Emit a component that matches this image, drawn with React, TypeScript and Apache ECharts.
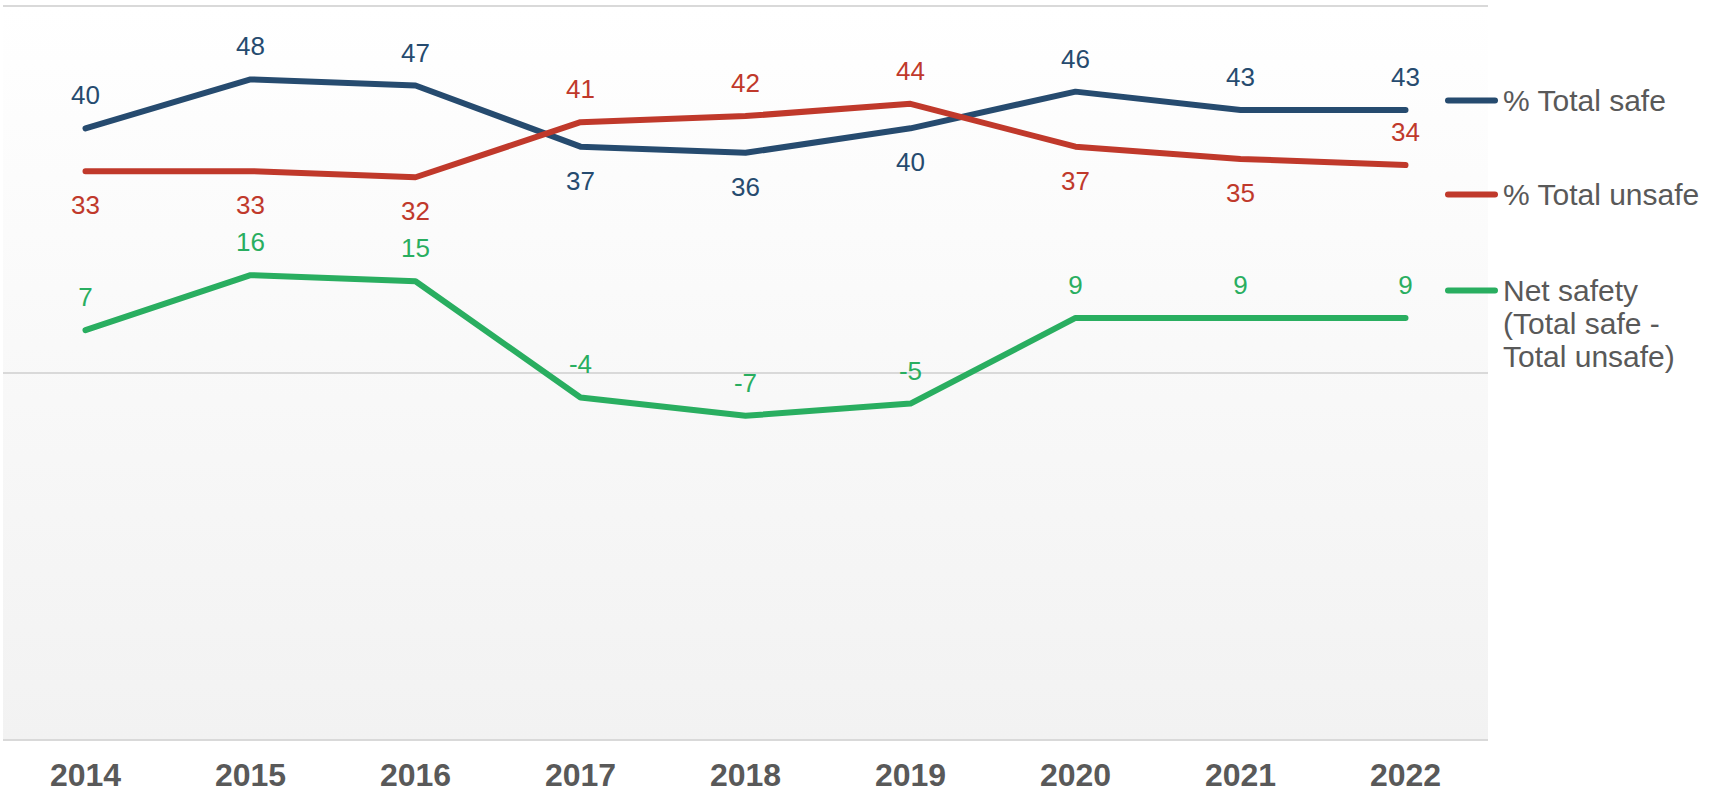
import React, { useEffect, useRef } from "react";
import * as echarts from "echarts";

const years = ["2014", "2015", "2016", "2017", "2018", "2019", "2020", "2021", "2022"];
const totalSafe = [40, 48, 47, 37, 36, 40, 46, 43, 43];
const totalUnsafe = [33, 33, 32, 41, 42, 44, 37, 35, 34];
const netSafety = [7, 16, 15, -4, -7, -5, 9, 9, 9];

const safeLabelPos = ["top", "top", "top", "bottom", "bottom", "bottom", "top", "top", "top"];
const unsafeLabelPos = ["bottom", "bottom", "bottom", "top", "top", "top", "bottom", "bottom", "top"];
const netLabelPos = ["top", "top", "top", "top", "top", "top", "top", "top", "top"];

const seriesNames = ["% Total safe", "% Total unsafe", "Net safety\n(Total safe -\nTotal unsafe)"];
const yTicks = { min: -60, max: 60, interval: 60 };

const BLUE = "#264b6f";
const RED = "#c0392b";
const GREEN = "#29ae60";
const FONT = "'Liberation Sans', Arial, sans-serif";

function buildData(values: number[], pos: string[]) {
  return values.map((v, i) => ({
    value: v,
    label: { position: pos[i], distance: pos[i] === "top" ? 20 : 21 },
  }));
}

function lineSeries(name: string, values: number[], pos: string[], color: string) {
  return {
    name,
    type: "line",
    data: buildData(values, pos),
    showSymbol: true,
    symbol: "circle",
    symbolSize: 0,
    lineStyle: { color, width: 6, cap: "round", join: "round" },
    itemStyle: { color },
    label: {
      show: true,
      color,
      fontSize: 26,
      fontFamily: FONT,
    },
    emphasis: { disabled: true },
  };
}

const barIcon = "path://M3,0h47a3,3 0 0 1 0,6h-47a3,3 0 0 1 0,-6z";
const tallBarIcon = "path://M3,0h47a3,3 0 0 1 0,6h-47a3,3 0 0 1 0,-6z M26,72h0.01v0.01h-0.01z";

function legendFor(name: string, top: number, color: string, icon: string, itemHeight: number) {
  return {
    data: [{ name, icon, itemStyle: { color } }],
    orient: "vertical",
    left: 1445,
    top,
    itemWidth: 53,
    itemHeight,
    padding: 0,
    selectedMode: false,
    textStyle: {
      color: "#595959",
      fontSize: 30,
      fontFamily: FONT,
      lineHeight: 33,
    },
  };
}

export default function App() {
  const ref = useRef<HTMLDivElement>(null);
  useEffect(() => {
    document.body.style.margin = "0";
    const chart = echarts.init(ref.current!, undefined, { renderer: "svg" });
    chart.setOption({
      animation: false,
      backgroundColor: "#ffffff",
      grid: {
        left: 3,
        right: 229,
        top: 6,
        bottom: 52,
        show: true,
        borderWidth: 0,
        backgroundColor: new echarts.graphic.LinearGradient(0, 0, 0, 1, [
          { offset: 0, color: "#ffffff" },
          { offset: 1, color: "#f2f2f2" },
        ]),
      },
      legend: [
        legendFor(seriesNames[0], 84, BLUE, barIcon, 6),
        legendFor(seriesNames[1], 178, RED, barIcon, 6),
        legendFor(seriesNames[2], 274, GREEN, tallBarIcon, 72),
      ],
      xAxis: {
        type: "category",
        data: years,
        boundaryGap: true,
        axisLine: { show: false, onZero: false },
        axisTick: { show: false },
        splitLine: { show: false },
        axisLabel: {
          color: "#595959",
          fontSize: 32,
          lineHeight: 32,
          fontWeight: "bold",
          fontFamily: FONT,
          margin: 19,
        },
      },
      yAxis: {
        type: "value",
        min: yTicks.min,
        max: yTicks.max,
        interval: yTicks.interval,
        axisLabel: { show: false },
        axisLine: { show: false },
        axisTick: { show: false },
        splitLine: { lineStyle: { color: "#d9d9d9", width: 2 } },
      },
      series: [
        lineSeries(seriesNames[0], totalSafe, safeLabelPos, BLUE),
        lineSeries(seriesNames[1], totalUnsafe, unsafeLabelPos, RED),
        lineSeries(seriesNames[2], netSafety, netLabelPos, GREEN),
      ],
    });
    return () => chart.dispose();
  }, []);
  return (
    <div
      ref={ref}
      style={{ position: "fixed", left: 0, top: 0, width: 1717, height: 792 }}
    />
  );
}
